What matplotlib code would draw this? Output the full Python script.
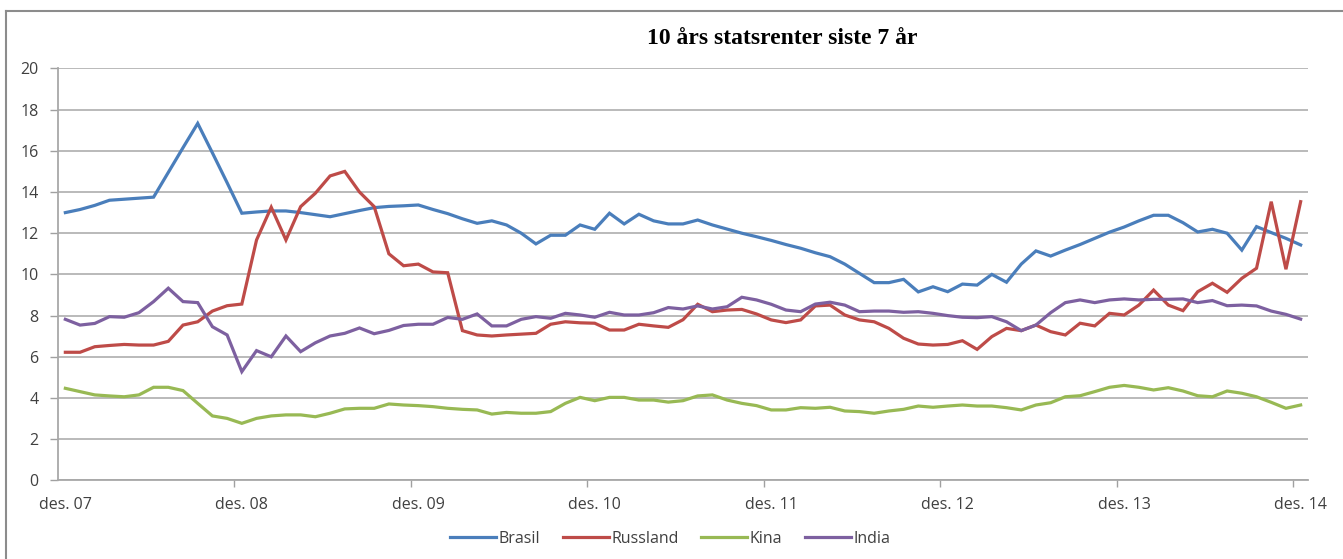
import matplotlib.pyplot as plt
from matplotlib.lines import Line2D


# ---------------------------------
# Data (monthly, des. 07 -> des. 14)
# ---------------------------------

tick_labels = ["des. 07", "des. 08", "des. 09", "des. 10",
               "des. 11", "des. 12", "des. 13", "des. 14"]

brasil = [13.0, 13.15, 13.35, 13.6, 13.65, 13.7, 13.75, 14.95, 16.15, 17.33,
          15.9, 14.45, 12.97, 13.03, 13.08, 13.08, 13.0, 12.9, 12.8, 12.95,
          13.1, 13.24, 13.3, 13.33, 13.37, 13.15, 12.95, 12.7, 12.48, 12.6,
          12.4, 12.0, 11.48, 11.9, 11.9, 12.4, 12.19, 12.97, 12.45, 12.92,
          12.6, 12.45, 12.45, 12.64, 12.4, 12.2, 12.0, 11.83, 11.65, 11.45,
          11.27, 11.05, 10.86, 10.5, 10.05, 9.6, 9.6, 9.76, 9.15, 9.4,
          9.16, 9.53, 9.48, 10.0, 9.62, 10.5, 11.14, 10.89, 11.18, 11.45,
          11.75, 12.05, 12.3, 12.6, 12.87, 12.87, 12.51, 12.06, 12.19, 12.0,
          11.18, 12.32, 12.03, 11.75, 11.43]

russland = [6.22, 6.22, 6.49, 6.55, 6.6, 6.57, 6.57, 6.75, 7.54, 7.7,
            8.22, 8.48, 8.56, 11.67, 13.26, 11.67, 13.29, 13.94, 14.78, 15.0,
            14.0, 13.29, 11.0, 10.42, 10.5, 10.12, 10.08, 7.27, 7.06, 7.01,
            7.06, 7.1, 7.14, 7.58, 7.7, 7.65, 7.63, 7.3, 7.3, 7.58,
            7.5, 7.43, 7.8, 8.55, 8.19, 8.27, 8.3, 8.08, 7.79, 7.66,
            7.79, 8.47, 8.51, 8.03, 7.79, 7.7, 7.38, 6.9, 6.62, 6.57,
            6.6, 6.78, 6.36, 6.98, 7.38, 7.27, 7.54, 7.22, 7.06, 7.63,
            7.5, 8.11, 8.03, 8.51, 9.24, 8.51, 8.24, 9.16, 9.57, 9.13,
            9.81, 10.3, 13.53, 10.25, 13.53]

kina = [4.47, 4.31, 4.15, 4.1, 4.06, 4.15, 4.52, 4.52, 4.36, 3.74,
        3.13, 3.01, 2.77, 3.01, 3.13, 3.18, 3.18, 3.09, 3.26, 3.47,
        3.5, 3.5, 3.71, 3.66, 3.63, 3.58, 3.5, 3.45, 3.42, 3.22,
        3.3, 3.26, 3.26, 3.34, 3.74, 4.03, 3.87, 4.03, 4.03, 3.9,
        3.9, 3.8, 3.87, 4.1, 4.15, 3.9, 3.74, 3.63, 3.42, 3.42,
        3.53, 3.5, 3.55, 3.37, 3.34, 3.26, 3.37, 3.45, 3.61, 3.55,
        3.61, 3.66, 3.61, 3.61, 3.53, 3.42, 3.66, 3.77, 4.06, 4.11,
        4.31, 4.52, 4.61, 4.52, 4.39, 4.5, 4.34, 4.11, 4.06, 4.34,
        4.23, 4.06, 3.79, 3.5, 3.66]

india = [7.82, 7.54, 7.62, 7.95, 7.92, 8.14, 8.68, 9.33, 8.68, 8.63,
         7.46, 7.06, 5.28, 6.3, 6.0, 7.01, 6.25, 6.68, 7.01, 7.14,
         7.4, 7.12, 7.28, 7.52, 7.58, 7.58, 7.91, 7.82, 8.08, 7.5,
         7.5, 7.82, 7.95, 7.87, 8.11, 8.03, 7.92, 8.16, 8.03, 8.03,
         8.14, 8.39, 8.32, 8.47, 8.32, 8.43, 8.89, 8.76, 8.55, 8.27,
         8.19, 8.56, 8.65, 8.51, 8.19, 8.22, 8.22, 8.16, 8.19, 8.11,
         8.0, 7.92, 7.9, 7.95, 7.7, 7.27, 7.54, 8.14, 8.63, 8.76,
         8.63, 8.76, 8.81, 8.76, 8.79, 8.79, 8.81, 8.63, 8.73, 8.48,
         8.51, 8.47, 8.22, 8.06, 7.83]

series = [("Brasil", brasil, "#4a7ebb"),
          ("Russland", russland, "#be4b48"),
          ("Kina", kina, "#98b954"),
          ("India", india, "#7d60a0")]

months = list(range(len(brasil)))


# ---------------------------------
# Figure
# ---------------------------------

plt.rcParams["font.family"] = ["Open Sans", "DejaVu Sans"]

fig = plt.figure(figsize=(13.43, 5.59), dpi=100)
ax = fig.add_axes([58 / 1343, 1 - 480.4 / 559, 1250 / 1343, 412 / 559])

for name, values, color in series:
    ax.plot(months, values, color=color, lw=2.3, label=name,
            solid_joinstyle="miter")

ax.set_xlim(-0.5, 84.5)
ax.set_ylim(0, 20)
ax.set_yticks(range(0, 21, 2))
ax.grid(axis="y", color="#b4b4b4", lw=1.3)
ax.set_axisbelow(True)

ax.set_xticks(range(0, 85, 12))
ax.set_xticklabels(tick_labels)
ax.set_xticks([k * 12 - 0.5 for k in range(1, 8)], minor=True)
ax.tick_params(axis="x", which="major", length=0, pad=12,
               labelsize=11.5, labelcolor="#404040")
ax.tick_params(axis="x", which="minor", length=5, color="#a0a0a0",
               width=1)
ax.tick_params(axis="y", length=6, color="#a0a0a0", width=1,
               labelsize=11.5, labelcolor="#404040", pad=8)

for side in ["top", "right"]:
    ax.spines[side].set_visible(False)
for side in ["left", "bottom"]:
    ax.spines[side].set_color("#a8a8a8")
    ax.spines[side].set_linewidth(1.3)

fig.text(782 / 1343, 1 - 38 / 559, "10 års statsrenter siste 7 år",
         ha="center", va="center", fontsize=17, fontweight="bold",
         family="Liberation Serif")

fig.legend(loc="center", bbox_to_anchor=(670 / 1343, 1 - 539 / 559),
           ncol=4, frameon=False, fontsize=11.5, handlelength=2.9,
           handletextpad=0.15, columnspacing=1.4, labelcolor="#404040")

# chart area frame (left and top edges)
fig.add_artist(Line2D([6 / 1343, 6 / 1343], [0, 1 - 11 / 559],
                      transform=fig.transFigure, color="#8c8c8c", lw=1.5))
fig.add_artist(Line2D([6 / 1343, 1], [1 - 11 / 559, 1 - 11 / 559],
                      transform=fig.transFigure, color="#8c8c8c", lw=1.5))

fig.savefig("out.png", dpi=100)
